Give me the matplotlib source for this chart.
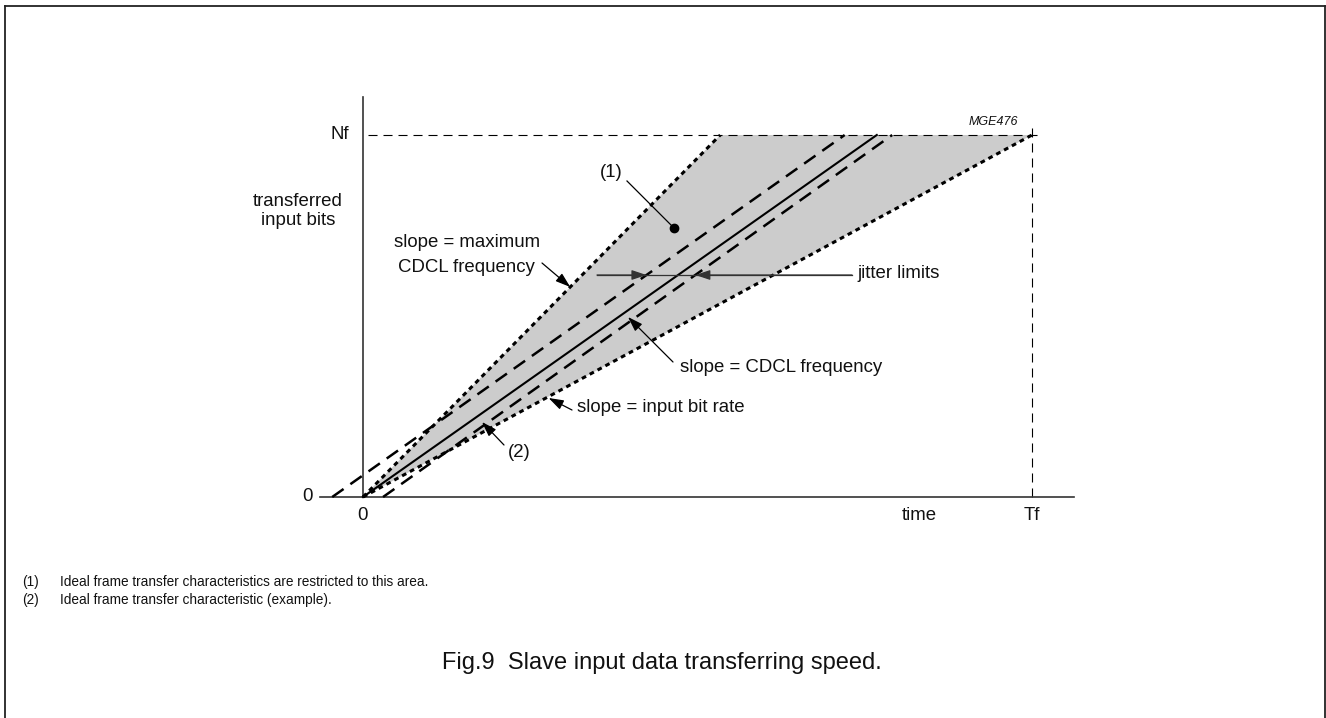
import matplotlib
matplotlib.use("Agg")
import matplotlib.pyplot as plt
from matplotlib.patches import Polygon

plt.rcParams["font.family"] = ["Liberation Sans", "DejaVu Sans"]
plt.rcParams["lines.scale_dashes"] = False

# ── Data (time in units of Tf, bits in units of Nf) ─────────────────────────
T_F = 1.0
N_F = 1.0
bits = [0.0, N_F]                  # every characteristic runs 0 -> Nf
max_rate_t = [0.0, 0.534]          # slope = maximum CDCL frequency
input_rate_t = [0.0, T_F]          # slope = input bit rate
cdcl_t = [0.0, 0.768]              # slope = CDCL frequency
jitter_early_t = [-0.046, 0.720]   # jitter limits around the CDCL line
jitter_late_t = [0.030, 0.791]

footnotes = [
    ("(1)", "Ideal frame transfer characteristics are restricted to this area."),
    ("(2)", "Ideal frame transfer characteristic (example)."),
]
caption = "Fig.9  Slave input data transferring speed."

# ── Layout: pixel <-> data mapping ──────────────────────────────────────────
W, H = 1326, 718
X0, Y0 = 363, 497           # origin in pixels
SX, SY = 669, 362           # pixels per Tf / per Nf


def P(x, y):
    return (x - X0) / SX, (Y0 - y) / SY


def t_at(line_t, n):
    return line_t[0] + (line_t[1] - line_t[0]) * n


fig = plt.figure(figsize=(W / 100, H / 100), dpi=100)
ax = fig.add_axes([0, 0, 1, 1])
ax.set_xlim(-X0 / SX, (W - X0) / SX)
ax.set_ylim((Y0 - H) / SY, Y0 / SY)
ax.axis("off")

# border (bottom edge runs off the picture)
for xs, ys in [([5, 5], [740, 6]), ([5, 1325], [6, 6]), ([1325, 1325], [6, 740])]:
    fig.add_artist(plt.Line2D([x / W for x in xs], [1 - y / H for y in ys],
                              color="#222222", lw=1.3))

# shaded area
ax.add_patch(Polygon([(0, 0), (max_rate_t[1], N_F), (input_rate_t[1], N_F)],
                     closed=True, facecolor="#cccccc", edgecolor="none", zorder=1))

# axes
ax.plot([P(320, 0)[0], P(1074, 0)[0]], [0, 0], color="#333333", lw=1.2, zorder=3)
ax.plot([0, 0], [0, P(0, 97)[1]], color="#333333", lw=1.2, zorder=3)

# Nf / Tf guides
ax.plot([P(368, 0)[0], P(1043, 0)[0]], [N_F, N_F], color="black", lw=0.8,
        dashes=(6.5, 4.3), zorder=2)
ax.plot([T_F, T_F], [0, P(0, 128)[1]], color="black", lw=0.8,
        dashes=(6.5, 4.3), zorder=2)

# characteristics
ax.plot(max_rate_t, bits, color="black", lw=2.2, dashes=(3.4, 3.0), zorder=4)
ax.plot(input_rate_t, bits, color="black", lw=2.2, dashes=(3.4, 3.0), zorder=4)
ax.plot(jitter_early_t, bits, color="black", lw=1.8, dashes=(10, 6), zorder=4)
ax.plot(jitter_late_t, bits, color="black", lw=1.8, dashes=(10, 6), zorder=4)
ax.plot(cdcl_t, bits, color="black", lw=1.5, zorder=4)

fs = 13.4
txt = dict(fontsize=fs, color="#111111")
ax.text(*P(349, 135), "Nf", ha="right", va="center", **txt)
ax.text(*P(298, 211), "transferred\ninput bits", ha="center", va="center",
        linespacing=1.12, **txt)
ax.text(*P(308, 497), "0", ha="center", va="center", **txt)
ax.text(*P(363, 515), "0", ha="center", va="center", **txt)
ax.text(*P(919, 515), "time", ha="center", va="center", **txt)
ax.text(*P(1032, 515), "Tf", ha="center", va="center", **txt)
ax.text(*P(1018, 122), "MGE476", ha="right", va="center", fontsize=9,
        style="italic", color="#111111")

arrow = dict(arrowstyle="-|>,head_length=0.9,head_width=0.3", color="black",
             lw=0.9, shrinkA=0, shrinkB=0, mutation_scale=10)

# (1) with dot
ax.text(*P(611, 173), "(1)", ha="center", va="center", **txt)
ax.plot([P(627, 181)[0], P(674, 228)[0]], [P(627, 181)[1], P(674, 228)[1]],
        color="black", lw=0.9, zorder=5)
ax.plot(*P(674, 228), "o", color="black", ms=6, zorder=5)

# slope = maximum CDCL frequency
ax.text(*P(540, 243), "slope = maximum", ha="right", va="center", **txt)
ax.text(*P(535, 268), "CDCL frequency", ha="right", va="center", **txt)
n = P(0, 287)[1]
ax.annotate("", xy=(t_at(max_rate_t, n), n), xytext=P(542, 263), arrowprops=arrow, zorder=5)

# jitter limits
n = P(0, 275)[1]
jarrow = dict(arrow, color="#333333")
ax.plot([P(597, 0)[0], P(852, 0)[0]], [n, n], color="#333333", lw=0.9, zorder=5)
ax.annotate("", xy=(t_at(jitter_early_t, n), n), xytext=(P(597, 0)[0], n),
            arrowprops=jarrow, zorder=5)
ax.annotate("", xy=(t_at(jitter_late_t, n), n), xytext=(P(852, 0)[0], n),
            arrowprops=jarrow, zorder=5)
ax.text(*P(857, 274), "jitter limits", ha="left", va="center", **txt)

# slope = CDCL frequency
ax.annotate("", xy=P(628, 317), xytext=P(673, 362), arrowprops=arrow, zorder=5)
ax.text(*P(680, 368), "slope = CDCL frequency", ha="left", va="center", **txt)

# slope = input bit rate
n = P(0, 398)[1]
ax.annotate("", xy=(t_at(input_rate_t, n) + 0.004, n), xytext=P(572, 410),
            arrowprops=arrow, zorder=5)
ax.text(*P(577, 408), "slope = input bit rate", ha="left", va="center", **txt)

# (2)
ax.annotate("", xy=P(482, 422), xytext=P(504, 445), arrowprops=arrow, zorder=5)
ax.text(*P(519, 453), "(2)", ha="center", va="center", **txt)

# footnotes and caption
for i, (num, note) in enumerate(footnotes):
    y = 1 - (582 + 18 * i) / H
    fig.text(22 / W, y, num, ha="left", va="center", fontsize=9.8, color="#111111")
    fig.text(60 / W, y, note, ha="left", va="center", fontsize=9.8, color="#111111")
fig.text(662 / W, 1 - 663 / H, caption, ha="center", va="center", fontsize=17,
         color="#111111")

fig.savefig("out.png", dpi=100, facecolor="white")
